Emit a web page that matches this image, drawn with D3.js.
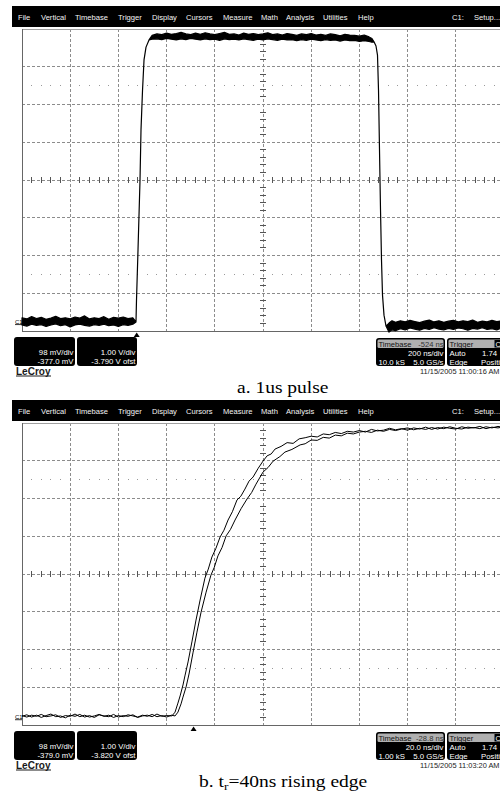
<!DOCTYPE html>
<html>
<head>
<meta charset="utf-8">
<script src="https://cdn.jsdelivr.net/npm/d3@7"></script>
<style>
  html, body { margin: 0; padding: 0; background: #fff; }
  svg { display: block; }
</style>
</head>
<body>
<svg id="fig" width="500" height="793"></svg>
<script>
// ---------------- data ----------------
const menuItems = ["File", "Vertical", "Timebase", "Trigger", "Display", "Cursors",
                   "Measure", "Math", "Analysis", "Utilities", "Help"];
const menuRight = ["C1:", "Setup..."];

// 1 us pulse, 200 ns/div: [time ns, upper envelope V, lower envelope V]
const pulse = [
  [0,0.14,-0.05],[20,0.11,-0.08],[40,0.17,-0.03],[60,0.12,-0.06],[80,0.15,-0.04],
  [100,0.10,-0.09],[120,0.13,-0.05],[140,0.18,-0.02],[160,0.12,-0.07],[180,0.14,-0.04],
  [200,0.11,-0.10],[220,0.16,-0.05],[240,0.13,-0.03],[260,0.19,-0.06],[280,0.11,-0.08],
  [300,0.14,-0.04],[320,0.12,-0.06],[340,0.17,-0.03],[360,0.10,-0.07],[380,0.15,-0.05],
  [400,0.13,-0.09],[420,0.16,-0.04],[440,0.12,-0.06],[460,0.14,-0.03],
  [473.0,0.03,0.03],[475.1,0.61,0.61],[481.4,1.94,1.94],[489.7,3.79,3.79],[493.8,5.12,5.12],
  [500.1,6.17,6.17],[506.3,6.97,6.97],[514.6,7.31,7.31],[527.1,7.50,7.50],
  [540,7.62,7.52],[560,7.66,7.53],[580,7.64,7.51],[600,7.68,7.54],[620,7.65,7.52],
  [640,7.67,7.50],[660,7.70,7.53],[680,7.66,7.51],[700,7.64,7.54],[720,7.68,7.52],
  [740,7.65,7.50],[760,7.69,7.53],[780,7.66,7.51],[800,7.64,7.52],[820,7.67,7.49],
  [840,7.70,7.53],[860,7.65,7.51],[880,7.66,7.52],[900,7.63,7.50],[920,7.68,7.53],
  [940,7.65,7.51],[960,7.67,7.49],[980,7.64,7.52],[1000,7.66,7.50],[1020,7.69,7.53],
  [1040,7.64,7.51],[1060,7.66,7.49],[1080,7.63,7.52],[1100,7.67,7.50],[1120,7.65,7.51],
  [1140,7.62,7.48],[1160,7.66,7.51],[1180,7.64,7.49],[1200,7.67,7.52],[1220,7.63,7.50],
  [1240,7.65,7.48],[1260,7.62,7.51],[1280,7.66,7.49],[1300,7.64,7.50],[1320,7.61,7.47],
  [1340,7.65,7.50],[1360,7.63,7.48],[1380,7.62,7.49],[1400,7.60,7.46],[1420,7.63,7.48],
  [1440,7.58,7.46],
  [1452,7.54,7.44],[1460.6,7.45,7.45],[1468.9,7.34,7.34],[1475.1,7.10,7.10],[1479.3,6.17,6.17],
  [1483.4,4.59,4.59],[1487.6,3.00,3.00],[1491.7,1.67,1.67],[1495.9,0.74,0.74],[1502.1,0.21,0.21],
  [1510.4,-0.08,-0.08],[1522.9,0.00,-0.24],[1535.3,0.06,-0.18],
  [1550,0.02,-0.20],[1570,0.06,-0.15],[1590,0.03,-0.18],[1610,0.07,-0.13],[1630,0.04,-0.16],
  [1650,0.01,-0.19],[1670,0.05,-0.14],[1690,0.08,-0.17],[1710,0.03,-0.12],[1730,0.06,-0.16],
  [1750,0.02,-0.18],[1770,0.05,-0.14],[1790,0.07,-0.17],[1810,0.03,-0.13],[1830,0.06,-0.15],
  [1850,0.04,-0.19],[1870,0.08,-0.14],[1890,0.02,-0.16],[1910,0.05,-0.12],[1930,0.03,-0.17],
  [1950,0.07,-0.15],[1970,0.04,-0.18],[1990,0.06,-0.13],[2000,0.03,-0.16]
];

// rising edge, 20 ns/div, first acquisition: [time ns, V]
const edgeA = [
  [0,0.05],[2,0.09],[4,0.03],[6,0.08],[8,0.02],[10,0.07],[12,0.11],[14,0.04],[16,0.06],[18,0.01],
  [20,0.08],[22,0.05],[24,0.10],[26,0.03],[28,0.07],[30,0.02],[32,0.09],[34,0.06],[36,0.04],[38,0.10],
  [40,0.03],[42,0.07],[44,0.05],[46,0.09],[48,0.02],[50,0.06],[52,0.08],[54,0.04],[56,0.11],[58,0.05],
  [60,0.07],[62.2,0.06],[63.5,0.16],[64.7,0.40],[65.6,0.59],[66.8,0.88],[67.6,1.12],[68.9,1.49],
  [70.5,2.02],[72.2,2.60],[73.9,3.13],[75.9,3.71],[77.3,3.95],[78.8,4.27],[80.4,4.49],[82.2,4.80],
  [83.8,4.98],[85.5,5.25],[87.3,5.47],[89.2,5.78],[90.8,5.88],[92.5,6.07],[94.2,6.28],[95.9,6.39],
  [98.0,6.62],[100.0,6.81],[101.7,6.95],[103.4,7.00],[105.0,7.13],
  [107.5,7.20],[110,7.30],[112.5,7.28],[115,7.40],[117.5,7.43],[120,7.47],[122.5,7.45],[125,7.53],
  [127.5,7.51],[130,7.57],[132.5,7.54],[135,7.60],[137.5,7.58],[140,7.62],[142.5,7.58],[145,7.65],
  [147.5,7.61],[150,7.63],[152.5,7.68],[155,7.64],[157.5,7.67],[160,7.63],[162.5,7.69],[165,7.66],
  [167.5,7.71],[170,7.65],[172.5,7.70],[175,7.67],[177.5,7.72],[180,7.68],[182.5,7.66],[185,7.71],
  [187.5,7.69],[190,7.73],[192.5,7.67],[195,7.71],[197.5,7.69],[200,7.72]
];

// rising edge, 20 ns/div, second acquisition: [time ns, V]
const edgeB = [
  [0,0.07],[2,0.03],[4,0.08],[6,0.05],[8,0.10],[10,0.04],[12,0.06],[14,0.09],[16,0.02],[18,0.07],
  [20,0.05],[22,0.11],[24,0.04],[26,0.08],[28,0.03],[30,0.06],[32,0.10],[34,0.05],[36,0.08],[38,0.02],
  [40,0.07],[42,0.04],[44,0.09],[46,0.06],[48,0.03],[50,0.08],[52,0.05],[54,0.10],[56,0.04],[58,0.07],
  [60,0.03],[62,0.08],[63.5,0.06],[64.7,0.16],[66.0,0.38],[66.8,0.56],[68.1,0.83],[69.3,1.17],
  [71.0,1.75],[72.6,2.28],[74.3,2.81],[76.4,3.34],[78.4,3.79],[79.8,4.00],[81.3,4.30],[83.0,4.52],
  [84.7,4.83],[86.5,5.00],[88.4,5.25],[90.9,5.55],[93.4,5.81],[95.3,5.98],[97.1,6.20],[100.0,6.52],
  [102.1,6.64],[104.2,6.81],[107,6.93],[109.1,7.05],[112,7.12],[115.4,7.24],[117.5,7.27],[120,7.37],
  [122.5,7.36],[125,7.44],[127.5,7.42],[130,7.50],[132.5,7.48],[135,7.55],[137.5,7.53],[140,7.58],
  [142.5,7.60],[145,7.57],[147.5,7.63],[150,7.60],[152.5,7.65],[155,7.62],[157.5,7.66],[160,7.69],
  [162.5,7.64],[165,7.68],[167.5,7.65],[170,7.70],[172.5,7.66],[175,7.71],[177.5,7.68],[180,7.66],
  [182.5,7.72],[185,7.68],[187.5,7.70],[190,7.67],[192.5,7.72],[195,7.69],[197.5,7.73],[200,7.70]
];

// instrument settings shown with each capture
const captures = [
  { tDiv: 200, vDiv: 1.0, ofst: -3.790, delay: -524,
    chan: ["98 mV/div", "-377.0 mV"], vert: ["1.00 V/div", "-3.790 V ofst"],
    tb: ["-524 ns", "200 ns/div", "10.0 kS", "5.0 GS/s"],
    trig: ["Auto", "1.74", "Edge", "Positive"],
    date: "11/15/2005 11:00:16 AM",
    caption: [["a. 1us pulse", false]] },
  { tDiv: 20, vDiv: 1.0, ofst: -3.820, delay: -28.8,
    chan: ["98 mV/div", "-379.0 mV"], vert: ["1.00 V/div", "-3.820 V ofst"],
    tb: ["-28.8 ns", "20.0 ns/div", "1.00 kS", "5.0 GS/s"],
    trig: ["Auto", "1.74", "Edge", "Positive"],
    date: "11/15/2005 11:03:20 AM",
    caption: [["b. t", false], ["r", true], ["=40ns rising edge", false]] }
];

// ---------------- layout ----------------
const W = 500;
const PANEL_DY = 394;
const grid = { left: 22, top: 29, divW: 48.2, divH: 37.75, nx: 10, ny: 8 };
const menuX = [18, 41, 75, 118, 152, 186, 223, 261, 286, 323, 358];
const menuRightX = [452, 474];
const SANS = "'Liberation Sans', Arimo, Arial, Helvetica, sans-serif";
const SERIF = "'Liberation Serif', Tinos, 'Times New Roman', Times, serif";

const svg = d3.select("#fig");

function screenText(g, x, y, str, opts = {}) {
  return g.append("text")
    .attr("font-family", SANS)
    .attr("x", x).attr("y", y)
    .attr("font-size", opts.size || 7.6)
    .attr("fill", opts.fill || "#fff")
    .attr("text-anchor", opts.anchor || "start")
    .text(str);
}

captures.forEach((cap, i) => {
  const g = svg.append("g").attr("transform", `translate(0,${i * PANEL_DY})`);

  const x = d3.scaleLinear()
    .domain([0, grid.nx * cap.tDiv])
    .range([grid.left, grid.left + grid.nx * grid.divW]);
  const center = -cap.ofst;
  const y = d3.scaleLinear()
    .domain([center - grid.ny / 2 * cap.vDiv, center + grid.ny / 2 * cap.vDiv])
    .range([grid.top + grid.ny * grid.divH, grid.top]);
  const [x0] = x.range();
  const [yb, yt] = y.range();

  // menu bar
  g.append("rect").attr("x", 12).attr("y", 6).attr("width", W - 12).attr("height", 21).attr("fill", "#000");
  menuItems.forEach((m, k) => screenText(g, menuX[k], 19.5, m, { fill: "#f4f4f4" }));
  menuRight.forEach((m, k) => screenText(g, menuRightX[k], 19.5, m, { fill: "#f4f4f4" }));

  // graticule
  const gr = g.append("g").attr("shape-rendering", "crispEdges");
  d3.range(1, grid.nx).forEach(k => {
    gr.append("line")
      .attr("x1", x(k * cap.tDiv)).attr("x2", x(k * cap.tDiv))
      .attr("y1", yt).attr("y2", yb)
      .attr("stroke", "#8c8c8c").attr("stroke-dasharray", "3,2");
  });
  d3.range(1, grid.ny).forEach(k => {
    const v = center + (k - grid.ny / 2) * cap.vDiv;
    gr.append("line")
      .attr("x1", x0).attr("x2", W)
      .attr("y1", y(v)).attr("y2", y(v))
      .attr("stroke", "#8c8c8c").attr("stroke-dasharray", "3,2");
  });
  // dotted rows at 1.5 div from top and bottom
  [grid.ny / 2 - 1.5, -(grid.ny / 2 - 1.5)].forEach(dv => {
    const yy = y(center + dv * cap.vDiv);
    d3.range(1, grid.nx * 5).forEach(k => {
      if (k % 5 === 0) return;
      gr.append("rect")
        .attr("x", x(k * cap.tDiv / 5) - 0.5).attr("y", yy - 0.5)
        .attr("width", 1).attr("height", 1).attr("fill", "#9a9a9a");
    });
  });
  // centre cross ticks
  const xc = x(grid.nx / 2 * cap.tDiv), yc = y(center);
  d3.range(1, grid.ny * 5).forEach(k => {
    if (k % 5 === 0) return;
    const yy = y(center + (k / 5 - grid.ny / 2) * cap.vDiv);
    gr.append("line").attr("x1", xc - 3).attr("x2", xc + 3).attr("y1", yy).attr("y2", yy).attr("stroke", "#555");
  });
  d3.range(1, grid.nx * 5).forEach(k => {
    if (k % 5 === 0) return;
    const xx = x(k * cap.tDiv / 5);
    gr.append("line").attr("x1", xx).attr("x2", xx).attr("y1", yc - 3).attr("y2", yc + 3).attr("stroke", "#555");
  });
  // borders
  gr.append("line").attr("x1", x0).attr("x2", W).attr("y1", yt).attr("y2", yt).attr("stroke", "#a0a0a0");
  gr.append("line").attr("x1", x0).attr("x2", x0).attr("y1", yt).attr("y2", yb).attr("stroke", "#666");
  gr.append("line").attr("x1", x0).attr("x2", W).attr("y1", yb).attr("y2", yb).attr("stroke", "#666");

  // waveform(s)
  if (i === 0) {
    const area = d3.area()
      .x(d => x(d[0])).y0(d => y(d[2])).y1(d => y(d[1]));
    g.append("path").datum(pulse)
      .attr("d", area)
      .attr("fill", "#000").attr("stroke", "#000")
      .attr("stroke-width", 1.2).attr("stroke-linejoin", "round");
  } else {
    const line = d3.line().x(d => x(d[0])).y(d => y(d[1]));
    [edgeA, edgeB].forEach(tr => {
      g.append("path").datum(tr)
        .attr("d", line)
        .attr("fill", "none").attr("stroke", "#000").attr("stroke-width", 1);
    });
  }

  // channel ground marker
  const yg = y(0);
  screenText(g, 15, yg + 1, "C1", { size: 6, fill: "#000" });
  g.append("line").attr("x1", 15).attr("x2", 22).attr("y1", yg + 1.5).attr("y2", yg + 1.5)
    .attr("stroke", "#000").attr("stroke-width", 0.8);

  // trigger position marker
  const xt = x(grid.nx / 2 * cap.tDiv + cap.delay);
  g.append("path")
    .attr("d", `M${xt},${yb + 1.5}L${xt + 3},${yb + 6}L${xt - 3},${yb + 6}Z`)
    .attr("fill", "#000");

  // channel / vertical boxes
  [[14, 61, cap.chan], [77, 60, cap.vert]].forEach(([bx, bw, lines]) => {
    g.append("rect").attr("x", bx).attr("y", 337).attr("width", bw).attr("height", 29)
      .attr("rx", 3).attr("fill", "#000");
    screenText(g, bx + bw - 1.5, 355, lines[0], { anchor: "end", size: 7.8 });
    screenText(g, bx + bw - 1.5, 364, lines[1], { anchor: "end", size: 7.8 });
  });

  // timebase box
  g.append("rect").attr("x", 376).attr("y", 338).attr("width", 69).attr("height", 28)
    .attr("rx", 3).attr("fill", "#000");
  g.append("rect").attr("x", 377.5).attr("y", 339.5).attr("width", 66).attr("height", 8.5)
    .attr("rx", 1.5).attr("fill", "#b0b0b0");
  screenText(g, 378.5, 346.5, "Timebase", { fill: "#111", size: 7.6 });
  screenText(g, 443.5, 346.5, cap.tb[0], { fill: "#333", anchor: "end", size: 7.6 });
  screenText(g, 443.5, 356, cap.tb[1], { anchor: "end", size: 7.8 });
  screenText(g, 378.5, 364.5, cap.tb[2], { size: 7.8 });
  screenText(g, 443.5, 364.5, cap.tb[3], { anchor: "end", size: 7.8 });

  // trigger box (runs past the right edge of the screen)
  g.append("rect").attr("x", 447).attr("y", 338).attr("width", 70).attr("height", 28)
    .attr("rx", 3).attr("fill", "#000");
  g.append("rect").attr("x", 448.5).attr("y", 339.5).attr("width", 67).attr("height", 8.5)
    .attr("rx", 1.5).attr("fill", "#b0b0b0");
  screenText(g, 449.5, 346.5, "Trigger", { fill: "#111", size: 7.6 });
  g.append("rect").attr("x", 494.5).attr("y", 340).attr("width", 14).attr("height", 7.5).attr("fill", "#000");
  screenText(g, 495.5, 346.5, "C", { size: 7.2 });
  screenText(g, 449.5, 356, cap.trig[0], { size: 7.8 });
  screenText(g, 482, 356, cap.trig[1], { size: 7.8 });
  screenText(g, 449.5, 364.5, cap.trig[2], { size: 7.8 });
  screenText(g, 481, 364.5, cap.trig[3], { size: 7.8 });

  // time stamp
  screenText(g, 499.5, 374, cap.date, { anchor: "end", fill: "#222", size: 7.4 });

  // maker logo
  g.append("text").attr("font-family", SANS)
    .attr("x", 16).attr("y", 374.5)
    .attr("font-size", 10).attr("font-weight", "bold").attr("fill", "#1a1a1a")
    .text("LeCroy");
  g.append("line").attr("x1", 16).attr("x2", 51).attr("y1", 376).attr("y2", 376)
    .attr("stroke", "#1a1a1a").attr("stroke-width", 1);

  // caption
  const cx = i === 0 ? 237 : 199;
  const t = g.append("text").attr("font-family", SERIF)
    .attr("transform", `translate(${cx},393) scale(1.22,1)`)
    .attr("font-size", 16).attr("fill", "#000");
  cap.caption.forEach(([s, sub], k) => {
    const ts = t.append("tspan").text(s);
    if (sub) ts.attr("font-size", 11).attr("dy", 3);
    else if (k > 0 && cap.caption[k - 1][1]) ts.attr("dy", -3);
  });
});
</script>
</body>
</html>
